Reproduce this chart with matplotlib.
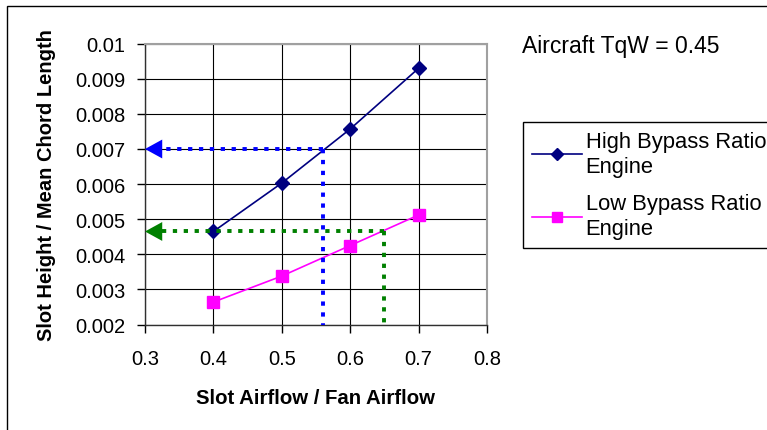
import matplotlib
matplotlib.use("Agg")
import matplotlib.pyplot as plt
from matplotlib.patches import Rectangle

plt.rcParams['font.family'] = ['Liberation Sans', 'DejaVu Sans']

# Data
slot_airflow = [0.4, 0.5, 0.6, 0.7]
high_bypass = [0.00465, 0.00603, 0.00757, 0.0093]
low_bypass = [0.00264, 0.00338, 0.00425, 0.00512]
series_labels = ["High Bypass Ratio\nEngine", "Low Bypass Ratio\nEngine"]
blue_guide = (0.56, 0.007)
green_guide = (0.65, 0.00465)
x_ticks = [0.3, 0.4, 0.5, 0.6, 0.7, 0.8]
y_ticks = [0.002, 0.003, 0.004, 0.005, 0.006, 0.007, 0.008, 0.009, 0.01]
x_ticklabels = ["0.3", "0.4", "0.5", "0.6", "0.7", "0.8"]
y_ticklabels = ["0.002", "0.003", "0.004", "0.005", "0.006", "0.007", "0.008", "0.009", "0.01"]
annotation = "Aircraft TqW = 0.45"
x_label = "Slot Airflow / Fan Airflow"
y_label = "Slot Height / Mean Chord Length"

W, H = 767, 431
fig = plt.figure(figsize=(W / 100, H / 100), dpi=100)
ax = fig.add_axes([145 / W, 1 - 325.5 / H, (487 - 145) / W, (325.5 - 44.7) / H])

# outer frame (partially off-canvas)
fig.patches.append(Rectangle((7 / W, -0.2), 1.2, 1 - 7 / H + 0.2, transform=fig.transFigure,
                             fill=False, edgecolor='black', linewidth=1.0))

ax.set_xlim(0.3, 0.8)
ax.set_ylim(0.002, 0.01)
ax.set_xticks(x_ticks)
ax.set_xticklabels(x_ticklabels, fontsize=14.5)
ax.set_yticks(y_ticks)
ax.set_yticklabels(y_ticklabels, fontsize=14.5)
ax.tick_params(axis='both', direction='out', length=6, width=1, color='black')
ax.tick_params(axis='x', pad=12)
ax.tick_params(axis='y', pad=8)
ax.grid(True, color='black', linewidth=0.8)
ax.set_axisbelow(True)
for s in ['top', 'right']:
    ax.spines[s].set_color('#a0a0a0')
    ax.spines[s].set_linewidth(1.5)
for s in ['left', 'bottom']:
    ax.spines[s].set_color('#303030')
    ax.spines[s].set_linewidth(1.0)

h1, = ax.plot(slot_airflow, high_bypass, color='#000080', marker='D', markersize=7,
              linewidth=1.2, label=series_labels[0], zorder=3)
h2, = ax.plot(slot_airflow, low_bypass, color='#FF00FF', marker='s', markersize=8,
              linewidth=1.2, label=series_labels[1], zorder=3)

dot = (0, (1.1, 1.7))
for (gx, gy), col in [(blue_guide, '#0000FF'), (green_guide, '#008000')]:
    ax.plot([gx, gx], [gy, 0.002], color=col, linewidth=2.8, linestyle=dot,
            dash_capstyle='butt', zorder=4)
    ax.plot([gx, 0.32], [gy, gy], color=col, linewidth=2.8, linestyle=dot,
            dash_capstyle='butt', zorder=4)
    ax.annotate('', xy=(0.3, gy), xytext=(0.33, gy),
                arrowprops=dict(arrowstyle='-|>,head_length=0.62,head_width=0.34',
                                mutation_scale=20, color=col, lw=0,
                                shrinkA=0, shrinkB=0), zorder=5)

ax.set_xlabel(x_label, fontsize=14.7, fontweight='bold', labelpad=14)
ax.set_ylabel(y_label, fontsize=14.5, fontweight='bold', labelpad=14)

fig.text(522 / W, 1 - 47 / H, annotation, fontsize=16.5, ha='left', va='center')

leg = fig.legend(handles=[h1, h2], loc='upper left', bbox_to_anchor=(523 / W, 1 - 123 / H),
                 bbox_transform=fig.transFigure, fontsize=15.8, frameon=True, fancybox=False,
                 edgecolor='black', framealpha=1, handlelength=2.3, handletextpad=0.15,
                 borderaxespad=0, borderpad=0.4, labelspacing=0.75, markerscale=0.9)
leg.get_frame().set_linewidth(1.0)
for t in leg.get_texts():
    t.set_linespacing(1.25)

fig.savefig('out.png', dpi=100)
